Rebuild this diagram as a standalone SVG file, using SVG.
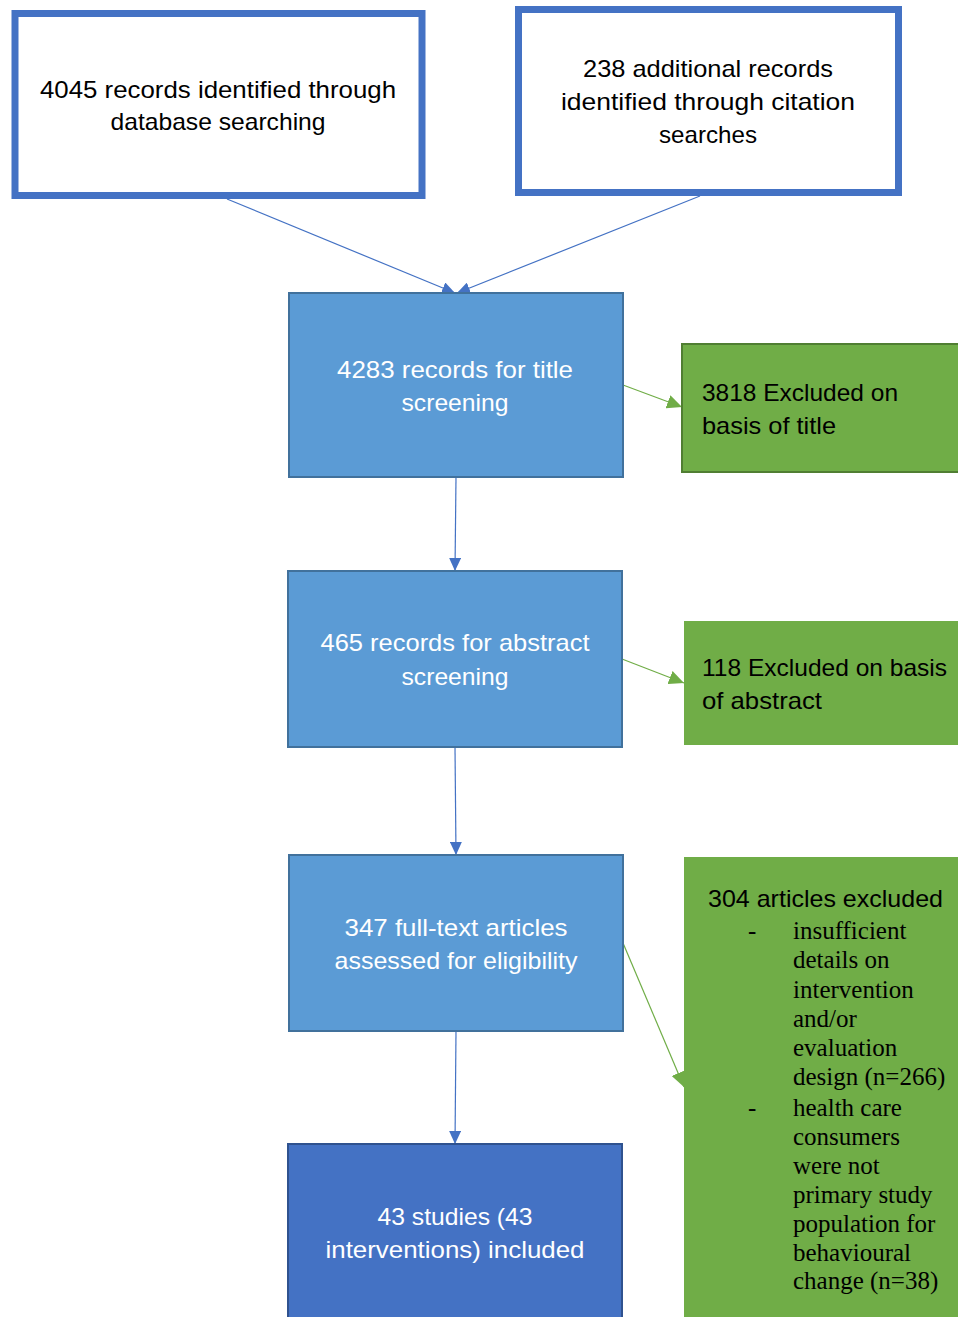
<svg xmlns="http://www.w3.org/2000/svg" width="958" height="1317" viewBox="0 0 958 1317">
  <style>
    .src { fill: #ffffff; stroke: #4472C4; stroke-width: 7; }
    .step { fill: #5B9BD5; stroke: #41719C; stroke-width: 2; }
    .final { fill: #4472C4; stroke: #2F528F; stroke-width: 2; }
    .excl { fill: #70AD47; }
    .excl-b { fill: #70AD47; stroke: #507E32; stroke-width: 2; }
    .sans { font-family: "Liberation Sans", Arial, sans-serif; font-size: 24px; }
    .serif { font-family: "Liberation Serif", "Times New Roman", serif; font-size: 25px; fill: #000000; }
    .dark { fill: #000000; }
    .light { fill: #ffffff; }
    .mid { text-anchor: middle; }
    .blue-line { stroke: #4472C4; stroke-width: 1.2; fill: none; }
    .green-line { stroke: #70AD47; stroke-width: 1.2; fill: none; }
  </style>
  <defs>
    <marker id="arrow-blue" markerUnits="userSpaceOnUse" markerWidth="14" markerHeight="12" refX="13" refY="6" orient="auto">
      <path d="M0,0 L13,6 L0,12 Z" fill="#4472C4"/>
    </marker>
    <marker id="arrow-green" markerUnits="userSpaceOnUse" markerWidth="16" markerHeight="14" refX="15" refY="7" orient="auto">
      <path d="M0,0 L15,7 L0,14 Z" fill="#70AD47"/>
    </marker>
  </defs>

  <g id="connectors">
    <line class="blue-line" x1="227" y1="199" x2="455" y2="293" marker-end="url(#arrow-blue)"/>
    <line class="blue-line" x1="700" y1="196" x2="457" y2="293" marker-end="url(#arrow-blue)"/>
    <line class="blue-line" x1="456" y1="477" x2="455" y2="571" marker-end="url(#arrow-blue)"/>
    <line class="blue-line" x1="455" y1="747" x2="456" y2="855" marker-end="url(#arrow-blue)"/>
    <line class="blue-line" x1="456" y1="1031" x2="455" y2="1144" marker-end="url(#arrow-blue)"/>
    <line class="green-line" x1="623" y1="385" x2="682" y2="407" marker-end="url(#arrow-green)"/>
    <line class="green-line" x1="622" y1="659" x2="684" y2="683" marker-end="url(#arrow-green)"/>
    <line class="green-line" x1="623" y1="943" x2="684" y2="1087" marker-end="url(#arrow-green)"/>
  </g>

  <g id="database-records">
    <rect class="src" x="15" y="13.5" width="407" height="182"/>
    <text class="sans dark mid" x="218" y="98" textLength="356" lengthAdjust="spacingAndGlyphs">4045 records identified through</text>
    <text class="sans dark mid" x="218" y="130" textLength="215" lengthAdjust="spacingAndGlyphs">database searching</text>
  </g>

  <g id="citation-records">
    <rect class="src" x="518.5" y="9.5" width="380" height="183"/>
    <text class="sans dark mid" x="708" y="77" textLength="250" lengthAdjust="spacingAndGlyphs">238 additional records</text>
    <text class="sans dark mid" x="708" y="110" textLength="294" lengthAdjust="spacingAndGlyphs">identified through citation</text>
    <text class="sans dark mid" x="708" y="143" textLength="98" lengthAdjust="spacingAndGlyphs">searches</text>
  </g>

  <g id="title-screening">
    <rect class="step" x="289" y="293" width="334" height="184"/>
    <text class="sans light mid" x="455" y="378" textLength="236" lengthAdjust="spacingAndGlyphs">4283 records for title</text>
    <text class="sans light mid" x="455" y="411" textLength="107" lengthAdjust="spacingAndGlyphs">screening</text>
  </g>

  <g id="title-excluded">
    <rect class="excl-b" x="682" y="344" width="282" height="128"/>
    <text class="sans dark" x="702" y="401" textLength="196" lengthAdjust="spacingAndGlyphs">3818 Excluded on</text>
    <text class="sans dark" x="702" y="434" textLength="134" lengthAdjust="spacingAndGlyphs">basis of title</text>
  </g>

  <g id="abstract-screening">
    <rect class="step" x="288" y="571" width="334" height="176"/>
    <text class="sans light mid" x="455" y="651" textLength="269" lengthAdjust="spacingAndGlyphs">465 records for abstract</text>
    <text class="sans light mid" x="455" y="685" textLength="107" lengthAdjust="spacingAndGlyphs">screening</text>
  </g>

  <g id="abstract-excluded">
    <rect class="excl" x="684" y="621" width="280" height="124"/>
    <text class="sans dark" x="702" y="676" textLength="245" lengthAdjust="spacingAndGlyphs">118 Excluded on basis</text>
    <text class="sans dark" x="702" y="709" textLength="120" lengthAdjust="spacingAndGlyphs">of abstract</text>
  </g>

  <g id="full-text-assessment">
    <rect class="step" x="289" y="855" width="334" height="176"/>
    <text class="sans light mid" x="456" y="936" textLength="223" lengthAdjust="spacingAndGlyphs">347 full-text articles</text>
    <text class="sans light mid" x="456" y="969" textLength="243" lengthAdjust="spacingAndGlyphs">assessed for eligibility</text>
  </g>

  <g id="full-text-excluded">
    <rect class="excl" x="684" y="857" width="280" height="470"/>
    <text class="sans dark" x="708" y="907" textLength="235" lengthAdjust="spacingAndGlyphs">304 articles excluded</text>
    <text class="serif" x="748" y="939">-</text>
    <text class="serif" x="793" y="939">insufficient</text>
    <text class="serif" x="793" y="968">details on</text>
    <text class="serif" x="793" y="998">intervention</text>
    <text class="serif" x="793" y="1027">and/or</text>
    <text class="serif" x="793" y="1056">evaluation</text>
    <text class="serif" x="793" y="1085">design (n=266)</text>
    <text class="serif" x="748" y="1116">-</text>
    <text class="serif" x="793" y="1116">health care</text>
    <text class="serif" x="793" y="1145">consumers</text>
    <text class="serif" x="793" y="1174">were not</text>
    <text class="serif" x="793" y="1203">primary study</text>
    <text class="serif" x="793" y="1232">population for</text>
    <text class="serif" x="793" y="1261">behavioural</text>
    <text class="serif" x="793" y="1289">change (n=38)</text>
  </g>

  <g id="included-studies">
    <rect class="final" x="288" y="1144" width="334" height="190"/>
    <text class="sans light mid" x="455" y="1225" textLength="155" lengthAdjust="spacingAndGlyphs">43 studies (43</text>
    <text class="sans light mid" x="455" y="1258" textLength="259" lengthAdjust="spacingAndGlyphs">interventions) included</text>
  </g>
</svg>
